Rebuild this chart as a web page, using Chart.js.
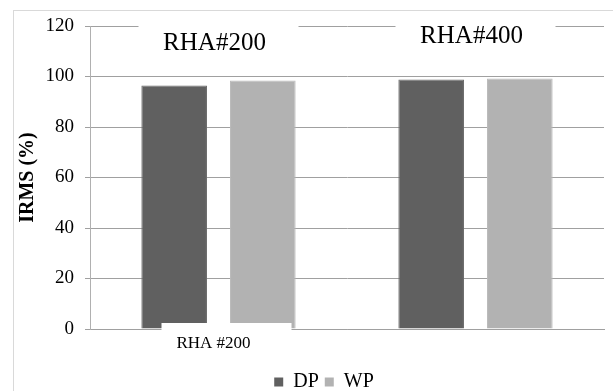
<!DOCTYPE html>
<html>
<head>
  <title>IRMS</title>
  <script src="https://cdn.jsdelivr.net/npm/chart.js"></script>
  <style>
    body { margin: 0; background: #fff; }
    #wrap { width: 613px; height: 391px; }
  </style>
</head>
<body>
  <div id="wrap"><canvas id="irms"></canvas></div>

  <script>
    const categories = ['RHA #200', 'RHA #400'];
    const xTickLabels = ['RHA #200', ''];
    const topLabels = ['RHA#200', 'RHA#400'];
    const dpValues = [96.4, 98.8];
    const wpValues = [98.4, 99.2];
    const yTicks = [0, 20, 40, 60, 80, 100, 120];

    const serif = '"Liberation Serif", "Times New Roman", serif';
    Chart.defaults.font.family = serif;
    Chart.defaults.color = '#000';

    // frame, label boxes and the pasted-over patch under the first group
    const extras = {
      id: 'extras',
      afterLayout(chart) {
        // legend sits a little right of centre in the original
        chart.legend.left += 15;
        chart.legend.right += 15;
      },
      beforeDraw(chart) {
        const c = chart.ctx;
        c.save();
        c.strokeStyle = '#d9d9d9';
        c.lineWidth = 1;
        c.strokeRect(13.5, 10.5, 800, 500);
        c.restore();
      },
      afterDatasetsDraw(chart) {
        const c = chart.ctx;
        const x = chart.scales.x, y = chart.scales.y;
        const top = y.getPixelForValue(120);
        const dys = [17, 10];
        c.save();
        c.font = '25px ' + serif;
        c.textAlign = 'center';
        c.textBaseline = 'middle';
        topLabels.forEach((t, i) => {
          const cx = x.getPixelForValue(i);
          c.fillStyle = '#fff';
          c.fillRect(cx - 80, top - 8, 160, 40);
          c.fillStyle = '#000';
          c.fillText(t, cx - 4, top + dys[i]);
        });
        // white patch over the base of the first group
        const cx0 = x.getPixelForValue(0);
        const base = y.getPixelForValue(0);
        c.fillStyle = '#fff';
        c.fillRect(cx0 - 57, base - 6, 130, 9);
        c.restore();
      }
    };

    new Chart(document.getElementById('irms'), {
      type: 'bar',
      data: {
        labels: categories,
        datasets: [
          { label: 'DP', data: dpValues, backgroundColor: '#606060', borderColor: '#6a6a6a', borderWidth: 1,
            categoryPercentage: 0.69, barPercentage: 0.74 },
          { label: 'WP', data: wpValues, backgroundColor: '#b2b2b2', borderColor: '#bababa', borderWidth: 1,
            categoryPercentage: 0.69, barPercentage: 0.74 }
        ]
      },
      options: {
        responsive: true,
        maintainAspectRatio: false,
        animation: false,
        layout: { padding: { left: 14, top: 26, right: 9, bottom: -11 } },
        plugins: {
          tooltip: { enabled: false },
          legend: {
            position: 'bottom',
            labels: {
              color: '#000',
              font: { family: serif, size: 20 },
              boxWidth: 9,
              boxHeight: 9,
              padding: 6,
              generateLabels(chart) {
                return chart.data.datasets.map((d, i) => ({
                  text: d.label, fillStyle: d.backgroundColor, strokeStyle: d.backgroundColor,
                  lineWidth: 0, datasetIndex: i, fontColor: '#000'
                }));
              }
            }
          }
        },
        scales: {
          x: {
            grid: { display: false, drawTicks: false },
            border: { color: '#a0a0a0' },
            ticks: {
              color: '#000',
              font: { family: serif, size: 17 },
              padding: 4,
              labelOffset: -5,
              callback: (v, i) => xTickLabels[i]
            },
            afterFit(s) { s.height = 37; }
          },
          y: {
            min: 0,
            max: 120,
            afterBuildTicks(s) { s.ticks = yTicks.map(v => ({ value: v })); },
            grid: { color: '#a0a0a0', tickLength: 5 },
            border: { color: '#b0b0b0' },
            ticks: { color: '#000', font: { family: serif, size: 19 }, padding: 11 },
            title: {
              display: true,
              text: 'IRMS (%)',
              color: '#000',
              font: { family: serif, size: 20, weight: 'bold' },
              padding: { top: 2, bottom: 0 }
            },
            afterFit(s) { s.width = 76; }
          }
        }
      },
      plugins: [extras]
    });
  </script>
</body>
</html>
